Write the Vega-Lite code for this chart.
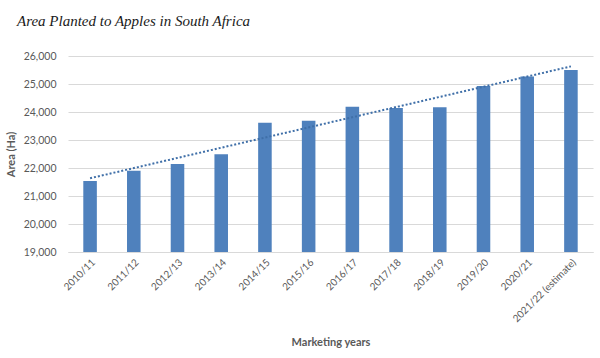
{
  "$schema": "https://vega.github.io/schema/vega-lite/v6.json",
  "width": 525,
  "height": 196,
  "autosize": "none",
  "padding": {"left": 68, "top": 56, "right": 7, "bottom": 106},
  "background": "white",
  "title": {
    "text": "Area Planted to Apples in South Africa",
    "anchor": "start",
    "frame": "group",
    "dx": -51,
    "offset": 22,
    "font": "Liberation Serif",
    "fontStyle": "italic",
    "fontWeight": "normal",
    "fontSize": 15,
    "color": "#1a1a1a"
  },
  "datasets": {
    "apples": [
      {"year": "2010/11", "i": 1, "area": 21540},
      {"year": "2011/12", "i": 2, "area": 21900},
      {"year": "2012/13", "i": 3, "area": 22140},
      {"year": "2013/14", "i": 4, "area": 22490},
      {"year": "2014/15", "i": 5, "area": 23620},
      {"year": "2015/16", "i": 6, "area": 23690},
      {"year": "2016/17", "i": 7, "area": 24190},
      {"year": "2017/18", "i": 8, "area": 24140},
      {"year": "2018/19", "i": 9, "area": 24170},
      {"year": "2019/20", "i": 10, "area": 24930},
      {"year": "2020/21", "i": 11, "area": 25270},
      {"year": "2021/22 (estimate)", "i": 12, "area": 25500}
    ]
  },
  "data": {"name": "apples"},
  "config": {
    "view": {"stroke": null},
    "axis": {
      "labelFont": "Lato",
      "labelFontSize": 10.5,
      "labelColor": "#595959",
      "titleFont": "Lato",
      "titleFontSize": 11,
      "titleFontWeight": "bold",
      "titleColor": "#595959",
      "gridColor": "#d9d9d9",
      "domainColor": "#d9d9d9",
      "ticks": false
    }
  },
  "encoding": {
    "x": {
      "field": "year",
      "type": "nominal",
      "sort": null,
      "scale": {"paddingInner": 0.69, "paddingOuter": 0.35},
      "axis": {
        "title": "Marketing years",
        "labelAngle": -45,
        "labelAlign": "right",
        "labelBaseline": "top",
        "labelPadding": 5,
        "labelLimit": 200,
        "labelFontSize": 10,
        "titleY": 84,
        "grid": false
      }
    },
    "y": {
      "field": "area",
      "type": "quantitative",
      "scale": {"domain": [19000, 26000], "zero": false, "nice": false},
      "axis": {
        "title": "Area (Ha)",
        "values": [19000, 20000, 21000, 22000, 23000, 24000, 25000, 26000],
        "format": ",.0f",
        "domain": false,
        "labelPadding": 12,
        "titleX": -52
      }
    }
  },
  "layer": [
    {
      "mark": {"type": "bar", "color": "#4f81bd", "clip": true}
    },
    {
      "transform": [
        {"regression": "area", "on": "i"},
        {"lookup": "i", "from": {"data": {"name": "apples"}, "key": "i", "fields": ["year"]}}
      ],
      "mark": {"type": "line", "color": "#3f6fa8", "strokeDash": [2, 2], "strokeWidth": 2}
    }
  ]
}
